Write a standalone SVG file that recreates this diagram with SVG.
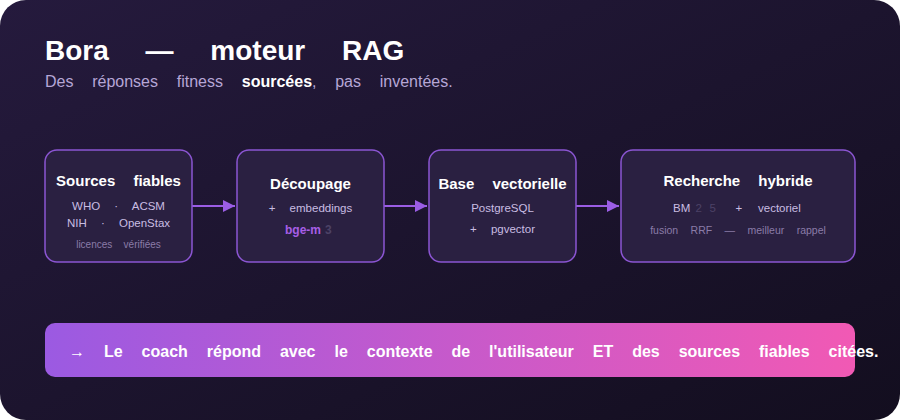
<svg xmlns="http://www.w3.org/2000/svg" width="900" height="420" viewBox="0 0 900 420">
<defs>
<linearGradient id="bg" x1="0" y1="0" x2="1" y2="1">
<stop offset="0" stop-color="#251a3d"/>
<stop offset="1" stop-color="#130e1f"/>
</linearGradient>
<linearGradient id="ban" x1="0" y1="0" x2="1" y2="0">
<stop offset="0" stop-color="#9b5ae2"/>
<stop offset="1" stop-color="#f159b4"/>
</linearGradient>
<marker id="ah" viewBox="0 0 10 10" refX="10" refY="5" markerWidth="14" markerHeight="12" markerUnits="userSpaceOnUse" orient="auto">
<path d="M0,0 L10,5 L0,10 z" fill="#9b5de5"/>
</marker>
<style>
text{font-family:"Liberation Sans",Arial,sans-serif}
.box{fill:#2a2041;stroke:#8b55d2;stroke-width:1.5}
.h{font-size:15px;font-weight:bold;fill:#ffffff;text-anchor:middle;word-spacing:14px}
.l{font-size:11.5px;fill:#c9bde2;text-anchor:middle;word-spacing:11px}
.ls{font-size:11.5px;fill:#c9bde2}
.d{font-size:10.5px;fill:#8a7ca8;text-anchor:middle;word-spacing:9.5px}
.dk{fill:#4c4266}
.conn{stroke:#9b5de5;stroke-width:2;fill:none}
</style>
</defs>
<rect x="0" y="0" width="900" height="420" fill="#ffffff"/>
<rect x="0" y="0" width="900" height="420" rx="26" fill="url(#bg)"/>
<g id="title">
<text x="45" y="60" font-size="28" font-weight="bold" fill="#ffffff" word-spacing="29">Bora — moteur RAG</text>
<text x="45" y="87" font-size="16" fill="#b6a6d6" word-spacing="14.3">Des réponses fitness <tspan font-weight="bold" fill="#ffffff">sourcées</tspan>, pas inventées.</text>
</g>
<g id="connectors">
<line class="conn" x1="192" y1="206" x2="235" y2="206" marker-end="url(#ah)"/>
<line class="conn" x1="384" y1="206" x2="427" y2="206" marker-end="url(#ah)"/>
<line class="conn" x1="576" y1="206" x2="619" y2="206" marker-end="url(#ah)"/>
</g>
<g id="n1">
<rect class="box" x="45" y="150" width="147" height="112" rx="12"/>
<text class="h" x="118.5" y="186">Sources fiables</text>
<text class="l" x="118.5" y="210">WHO · ACSM</text>
<text class="l" x="118.5" y="227">NIH · OpenStax</text>
<text class="d" x="118.5" y="248" style="font-size:10px;word-spacing:8.5px">licences vérifiées</text>
</g>
<g id="n2">
<rect class="box" x="237" y="150" width="147" height="112" rx="12"/>
<text class="h" x="310.5" y="189">Découpage</text>
<text class="l" x="310.5" y="212">+ embeddings</text>
<text class="ls" x="285" y="234" style="font-size:12px;font-weight:bold"><tspan fill="#a75ee6">bge-m</tspan><tspan class="dk" x="325">3</tspan></text>
</g>
<g id="n3">
<rect class="box" x="429" y="150" width="147" height="112" rx="12"/>
<text class="h" x="502.5" y="189">Base vectorielle</text>
<text class="l" x="502.5" y="212">PostgreSQL</text>
<text class="l" x="502.5" y="233">+ pgvector</text>
</g>
<g id="n4">
<rect class="box" x="621" y="150" width="234" height="112" rx="12"/>
<text class="h" x="738" y="186">Recherche hybride</text>
<text class="ls" x="673" y="212">BM<tspan class="dk" x="695.5">2</tspan><tspan class="dk" x="709.5">5</tspan><tspan x="735.5">+</tspan><tspan x="758">vectoriel</tspan></text>
<text class="d" x="738" y="234">fusion RRF — meilleur rappel</text>
</g>
<g id="banner">
<rect x="45" y="323" width="810" height="54" rx="10" fill="url(#ban)"/>
<text x="69" y="357" font-size="16" font-weight="bold" fill="#ffffff" word-spacing="14.5">→ Le coach répond avec le contexte de l'utilisateur ET des sources fiables citées.</text>
</g>
</svg>
